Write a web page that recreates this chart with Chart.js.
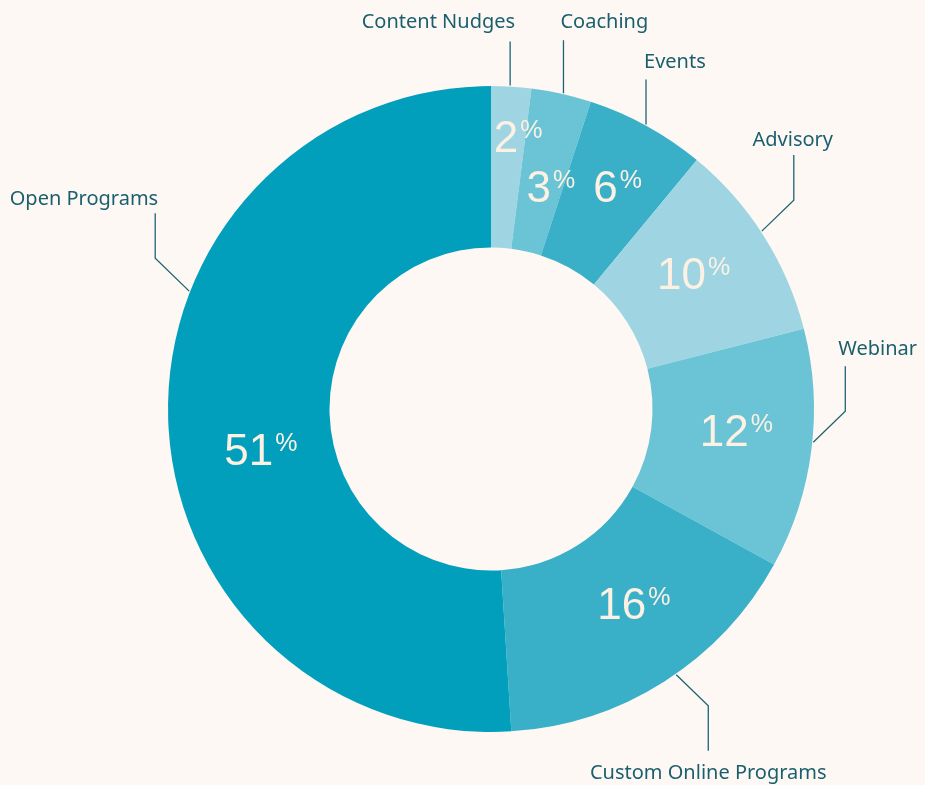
<!DOCTYPE html>
<html>
<head>
<meta charset="utf-8">
<script src="https://cdn.jsdelivr.net/npm/chart.js@4"></script>
<style>
  html, body { margin: 0; padding: 0; background: #fdf8f4; }
  #wrap { width: 925px; height: 785px; }
</style>
</head>
<body>
<div id="wrap"><canvas id="chart" width="925" height="785"></canvas></div>
<script>
// Share of activity by programme type (percent)
const categories = ['Content Nudges', 'Coaching', 'Events', 'Advisory', 'Webinar', 'Custom Online Programs', 'Open Programs'];
const shares = [2, 3, 6, 10, 12, 16, 51];
const sliceColors = ['#9fd5e2', '#6ac4d6', '#39b0c8', '#9fd5e2', '#6ac4d6', '#39b0c8', '#029fbd'];

// Callout styling per slice: where the leader leaves the arc (fraction of the slice),
// the diagonal elbow, the vertical run, and how the caption sits at its end.
const callouts = [
  { at: 0.47, elbow: [0, 0],     run: -44, align: 'right',  tx: 5,  ty: -19 },
  { at: 0.53, elbow: [0, 0],     run: -53, align: 'left',   tx: -3, ty: -18 },
  { at: 0.49, elbow: [0, 0],     run: -45, align: 'left',   tx: -2, ty: -17 },
  { at: 0.475, elbow: [32, -31], run: -45, align: 'center', tx: -1, ty: -15 },
  { at: 0.47, elbow: [32, -31],  run: -45, align: 'left',   tx: -7, ty: -17 },
  { at: 0.457, elbow: [32, 31],  run: 45,  align: 'center', tx: 0,  ty: 22 },
  { at: 0.626, elbow: [-34, -33], run: -45, align: 'right', tx: 3,  ty: -14 }
];
// Nudges for the in-slice percentage figures
const valueNudge = [[12, -31], [7, 13], [10, -11], [-2, -6], [5, -9], [13, -11], [12, 32]];

const calloutPlugin = {
  id: 'callouts',
  afterDatasetsDraw(chart) {
    const ctx = chart.ctx;
    const meta = chart.getDatasetMeta(0);
    meta.data.forEach((arc, i) => {
      const p = arc.getProps(['x', 'y', 'startAngle', 'endAngle', 'innerRadius', 'outerRadius'], true);
      const c = callouts[i];

      // leader line
      const a = p.startAngle + c.at * (p.endAngle - p.startAngle);
      const r = p.outerRadius + 1;
      const ax = p.x + Math.cos(a) * r;
      const ay = p.y + Math.sin(a) * r;
      const ex = ax + c.elbow[0];
      const ey = ay + c.elbow[1];
      const vx = ex;
      const vy = ey + c.run;
      ctx.save();
      ctx.strokeStyle = '#1c6373';
      ctx.lineWidth = 1.3;
      ctx.beginPath();
      ctx.moveTo(ax, ay);
      ctx.lineTo(ex, ey);
      ctx.lineTo(vx, vy);
      ctx.stroke();

      // caption
      ctx.fillStyle = '#1b5f6e';
      ctx.font = '20px "Noto Sans", "Liberation Sans", sans-serif';
      ctx.textAlign = c.align;
      ctx.textBaseline = 'middle';
      ctx.fillText(categories[i], vx + c.tx, vy + c.ty);
      ctx.restore();

      // percentage figure inside the slice
      const m = (p.startAngle + p.endAngle) / 2;
      const rm = (p.innerRadius + p.outerRadius) / 2;
      const cx = p.x + Math.cos(m) * rm + valueNudge[i][0];
      const cy = p.y + Math.sin(m) * rm + valueNudge[i][1];
      const num = String(shares[i]);
      ctx.save();
      ctx.fillStyle = '#fcf1e3';
      ctx.font = '44px "Liberation Sans", Arial, sans-serif';
      const wNum = ctx.measureText(num).width;
      ctx.font = '25px "Liberation Sans", Arial, sans-serif';
      const wPct = ctx.measureText('%').width;
      const left = cx - (wNum + 2 + wPct) / 2;
      ctx.textAlign = 'left';
      ctx.textBaseline = 'alphabetic';
      ctx.font = '44px "Liberation Sans", Arial, sans-serif';
      const base = cy + 16;
      ctx.fillText(num, left, base);
      ctx.font = '25px "Liberation Sans", Arial, sans-serif';
      ctx.fillText('%', left + wNum + 2, base - 14);
      ctx.restore();
    });
  }
};

new Chart(document.getElementById('chart'), {
  type: 'doughnut',
  data: {
    labels: categories,
    datasets: [{
      data: shares,
      backgroundColor: sliceColors,
      borderWidth: 0,
      hoverOffset: 0
    }]
  },
  options: {
    responsive: false,
    animation: false,
    cutout: '50%',
    layout: { padding: { left: 168, right: 111, top: 86, bottom: 53 } },
    plugins: {
      legend: { display: false },
      tooltip: { enabled: false }
    }
  },
  plugins: [calloutPlugin]
});
</script>
</body>
</html>
